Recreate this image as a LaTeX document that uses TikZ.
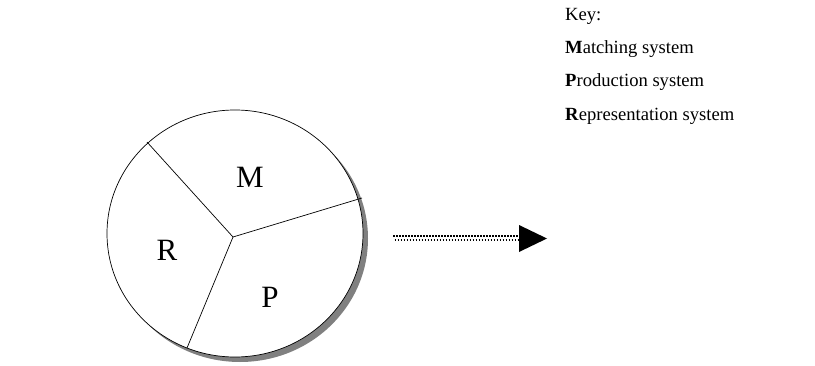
\documentclass[tikz,border=0pt]{standalone}
\usepackage{fontspec}
\setmainfont{Liberation Serif}
\begin{document}
\begin{tikzpicture}[x=1pt,y=1pt,
  sector/.style={font=\fontsize{31}{36}\selectfont, inner sep=0pt},
  keyline/.style={anchor=base west, inner sep=0pt, font=\fontsize{18.6}{22}\selectfont},
  spoke/.style={draw=black, line width=0.7pt},
  dotrow/.style={line width=1.5pt, dash pattern=on 1.5pt off 1.5pt}]
\useasboundingbox (0,0) rectangle (815,365);

% drop shadow and the disc
\fill[gray] (240,126.5) ellipse [x radius=128, y radius=123.5];
\draw[fill=white, line width=0.7pt] (235,131.5) ellipse [x radius=128, y radius=123.5];

% the three sectors
\coordinate (hub) at (233,128);
\coordinate (rimA) at (147,223);
\coordinate (rimB) at (362,167);
\coordinate (rimC) at (187,17);
\draw[spoke] (hub) -- (rimA);
\draw[spoke] (hub) -- (rimB);
\draw[spoke] (hub) -- (rimC);

\node[sector] (m) at (250,188) {M};
\node[sector] (r) at (167,115) {R};
\node[sector] (p) at (270,68) {P};

% dotted arrow
\coordinate (tailT) at (393,129);
\coordinate (headT) at (519,129);
\coordinate (tailB) at (393,125);
\coordinate (headB) at (519,125);
\draw[dotrow] (tailT) -- (headT);
\draw[dotrow, dash phase=1.5pt] (tailB) -- (headB);
\fill (519,140) -- (547,126.5) -- (519,113) -- cycle;

% key
\node[keyline] (key) at (565,344) {Key:};
\node[keyline] (km) at (565,311) {\textbf{M}atching system};
\node[keyline] (kp) at (565,278) {\textbf{P}roduction system};
\node[keyline] (kr) at (565,244) {\textbf{R}epresentation system};
\end{tikzpicture}
\end{document}
